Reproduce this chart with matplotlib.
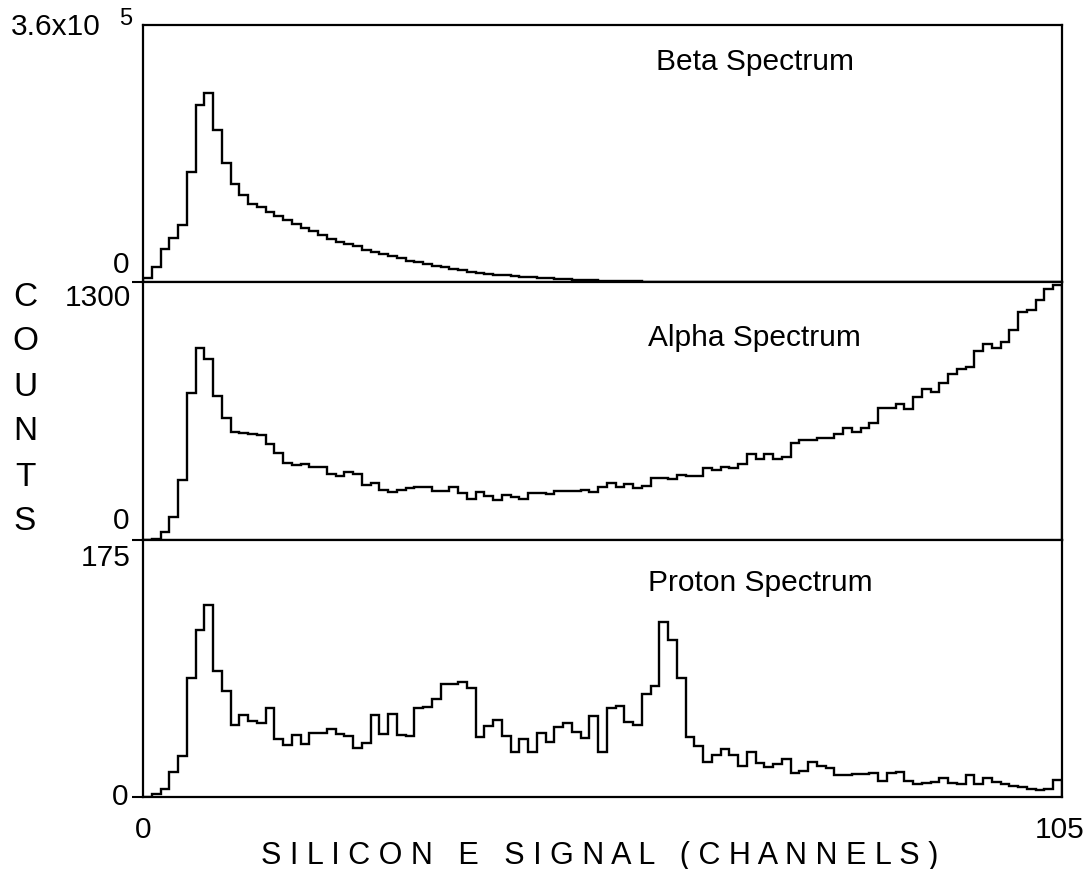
import matplotlib
matplotlib.use('Agg')
import matplotlib.pyplot as plt
import numpy as np

plt.rcParams['font.family'] = ['Liberation Sans', 'DejaVu Sans']

# channel edges 0..105
edges = np.arange(106)

# counts per channel
beta_counts = [5600, 21000, 46200, 61600, 79800, 154000, 247300, 264700, 212900, 166700,
               137300, 121900, 109300, 105100, 97500, 91900, 86300, 81200, 75600, 70900,
               66300, 60700, 56500, 53200, 49900, 45200, 42000, 39200, 35900, 33600,
               29800, 27500, 25200, 22800, 20500, 18200, 16400, 14700, 13200, 11800,
               10500, 9400, 8400, 7400, 6600, 5900, 5200, 4500, 3900, 3400,
               2800, 2400, 2000, 1500, 1300, 1000, 800, 600, 500, 400,
               300, 250, 200, 150, 120, 100, 80, 60, 50, 40,
               30, 20, 20, 10, 10, 10, 0, 0, 0, 0,
               0, 0, 0, 0, 0, 0, 0, 0, 0, 0,
               0, 0, 0, 0, 0, 0, 0, 0, 0, 0,
               0, 0, 0, 0, 0]

alpha_counts = [0, 4, 42, 114, 302, 739, 966, 910, 726, 616,
                543, 538, 533, 528, 482, 437, 386, 378, 381, 366,
                370, 331, 324, 344, 333, 277, 286, 252, 243, 252,
                261, 266, 266, 248, 248, 265, 235, 205, 244, 222,
                202, 227, 215, 205, 238, 238, 232, 247, 247, 247,
                252, 240, 269, 286, 266, 281, 260, 274, 311, 314,
                307, 328, 323, 324, 361, 353, 370, 361, 383, 432,
                410, 433, 408, 420, 487, 504, 504, 512, 512, 533,
                563, 546, 563, 588, 664, 664, 685, 659, 719, 759,
                748, 790, 835, 860, 870, 954, 988, 966, 1000, 1058,
                1148, 1159, 1210, 1264, 1285]

proton_counts = [0, 1.8, 5.7, 17, 28, 81, 114, 130.5, 86, 72,
                 49, 55.6, 51.5, 50.4, 60.6, 39.3, 35.2, 42.5, 36.4, 43.8,
                 43.8, 46, 43.2, 41.3, 33.6, 37, 55.6, 43.2, 56.3, 42.5,
                 41.3, 60.6, 61.3, 66.5, 77, 77, 78, 74, 40.6, 48.3,
                 52.4, 41.5, 30.9, 39.5, 30.9, 43.3, 37.2, 47.4, 50.1, 44,
                 40.4, 55.4, 30.4, 60.4, 62.2, 50.8, 49, 70.1, 75.6, 119,
                 106.9, 80.8, 41, 35, 24, 28.8, 32.5, 28.8, 21.1, 30.4,
                 23, 20.7, 22.3, 25.6, 16.1, 17.7, 24.1, 21.1, 20, 15,
                 15, 15.9, 15.9, 16.6, 10.9, 16.6, 17.3, 10.9, 9.1, 9.3,
                 10.2, 12.7, 9.8, 8.6, 15, 8.6, 12.7, 10.2, 8.6, 7.5,
                 6.8, 5.7, 4.6, 5.7, 11.6]

panel_names = ['Beta Spectrum', 'Alpha Spectrum', 'Proton Spectrum']
panel_max = [3.6e5, 1300, 175]

W, H = 1086, 869


def fx(x):
    return x / W


def fy(y):
    return 1 - y / H


def main():
    fig = plt.figure(figsize=(W / 100, H / 100), dpi=100)

    left, right = 143, 1062
    tops = [25, 282, 540]
    bots = [282, 540, 797]
    data = [beta_counts, alpha_counts, proton_counts]
    title_pos = [(755, 62), (754, 338), (760, 583)]

    for i in range(3):
        ax = fig.add_axes([fx(left), fy(bots[i]), fx(right - left),
                           (bots[i] - tops[i]) / H])
        ax.stairs(data[i], edges, color='black', lw=1.7)
        ax.set_xlim(0, 105)
        ax.set_ylim(0, panel_max[i])
        ax.set_xticks([])
        ax.set_yticks([0])
        ax.set_yticklabels([])
        ax.tick_params(axis='y', direction='out', length=8, width=1.5)
        for s in ax.spines.values():
            s.set_linewidth(1.6)
        fig.text(fx(title_pos[i][0]), fy(title_pos[i][1]), panel_names[i],
                 fontsize=21.5, ha='center', va='center')

    # y-axis labels
    fs = 21.5
    fig.text(fx(101), fy(27), '3.6x10', fontsize=fs, ha='right', va='center')
    fig.text(fx(126), fy(19), '5', fontsize=17, ha='center', va='center')
    fig.text(fx(129), fy(265), '0', fontsize=fs, ha='right', va='center')
    fig.text(fx(131), fy(298), '1300', fontsize=fs, ha='right', va='center')
    fig.text(fx(129), fy(521), '0', fontsize=fs, ha='right', va='center')
    fig.text(fx(131), fy(558), '175', fontsize=fs, ha='right', va='center')
    fig.text(fx(128), fy(797), '0', fontsize=fs, ha='right', va='center')

    # x-axis labels
    fig.text(fx(143), fy(830), '0', fontsize=fs, ha='center', va='center')
    fig.text(fx(1060), fy(830), '105', fontsize=fs, ha='center', va='center')
    xlab = 'S I L I C O N   E   S I G N A L   ( C H A N N E L S )'
    fig.text(fx(600), fy(856), xlab, fontsize=22, ha='center', va='center')

    # vertical COUNTS label
    for k, ch in enumerate('COUNTS'):
        fig.text(fx(25), fy(297 + 45 * k), ch, fontsize=24,
                 ha='center', va='center')

    plt.savefig('out.png', dpi=100)


if __name__ == '__main__':
    main()
